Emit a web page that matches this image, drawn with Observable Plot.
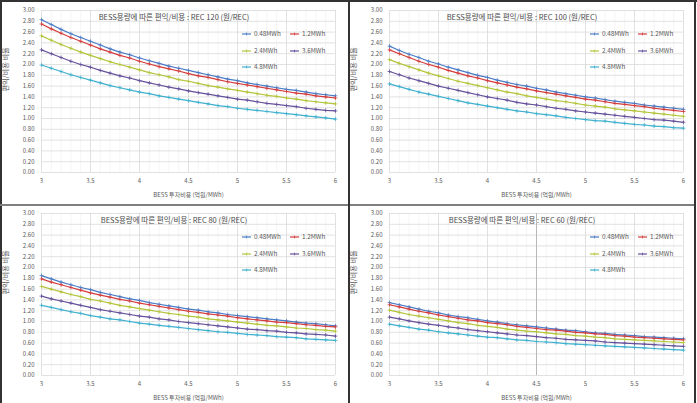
<!DOCTYPE html>
<html><head><meta charset="utf-8">
<script src="https://cdn.jsdelivr.net/npm/d3@7"></script>
<script src="https://cdn.jsdelivr.net/npm/@observablehq/plot@0.6"></script>
<style>
body{margin:0;background:#fff;font-family:"Noto Sans CJK KR","Noto Sans",sans-serif;}
#root{position:relative;width:697px;height:403px;overflow:hidden;background:#fff}
.panel{position:absolute}
.panel svg{display:block}
.title{position:absolute;font-size:7.5px;color:#4a4a4a;white-space:nowrap;transform:translate(-50%,-50%);line-height:1;font-weight:400}
.leg{position:absolute;font-size:6.3px;color:#595959;white-space:nowrap;line-height:1;display:flex;align-items:center}
.leg svg{margin-right:3px}
.bar{position:absolute}
</style></head><body><div id="root"></div>
<script>
const xValues = [3.0,3.1,3.2,3.3,3.4,3.5,3.6,3.7,3.8,3.9,4.0,4.1,4.2,4.3,4.4,4.5,4.6,4.7,4.8,4.9,5.0,5.1,5.2,5.3,5.4,5.5,5.6,5.7,5.8,5.9,6.0];
const seriesNames = ["0.48MWh","1.2MWh","2.4MWh","3.6MWh","4.8MWh"];
const seriesColors = ["#4a7cc7","#d63c3c","#b4c53a","#66519c","#3fb0cf"];
const recLabels = ["REC 120","REC 100","REC 80","REC 60"];
const xTicks = [3,3.5,4,4.5,5,5.5,6];
const xMinor = [3.1,3.2,3.3,3.4,3.6,3.7,3.8,3.9,4.1,4.2,4.3,4.4,4.6,4.7,4.8,4.9,5.1,5.2,5.3,5.4,5.6,5.7,5.8,5.9];
const yTicks = [0,0.2,0.4,0.6,0.8,1.0,1.2,1.4,1.6,1.8,2.0,2.2,2.4,2.6,2.8,3.0];
const xTitle = "BESS 투자비용 (억원/MWh)";
const yTitle = "편익/비용 비율";

const rec120 = [
 [2.83,2.74,2.65,2.57,2.50,2.43,2.36,2.29,2.23,2.18,2.12,2.07,2.02,1.97,1.93,1.89,1.85,1.81,1.77,1.73,1.70,1.66,1.63,1.60,1.57,1.54,1.52,1.49,1.46,1.44,1.42],
 [2.75,2.66,2.58,2.50,2.43,2.36,2.29,2.23,2.17,2.12,2.06,2.01,1.96,1.92,1.88,1.83,1.79,1.76,1.72,1.68,1.65,1.62,1.59,1.56,1.53,1.50,1.47,1.45,1.42,1.40,1.38],
 [2.53,2.45,2.37,2.30,2.23,2.17,2.11,2.05,2.00,1.95,1.90,1.85,1.81,1.77,1.72,1.69,1.65,1.61,1.58,1.55,1.52,1.49,1.46,1.43,1.41,1.38,1.36,1.33,1.31,1.29,1.27],
 [2.27,2.20,2.13,2.06,2.00,1.95,1.89,1.84,1.79,1.75,1.70,1.66,1.62,1.58,1.55,1.51,1.48,1.45,1.42,1.39,1.36,1.34,1.31,1.28,1.26,1.24,1.22,1.19,1.17,1.15,1.14],
 [1.99,1.93,1.87,1.81,1.76,1.71,1.66,1.61,1.57,1.53,1.49,1.46,1.42,1.39,1.36,1.33,1.30,1.27,1.24,1.22,1.19,1.17,1.15,1.13,1.11,1.09,1.07,1.05,1.03,1.01,0.99]
];
const rec100 = [
 [2.34,2.26,2.19,2.13,2.06,2.01,1.95,1.90,1.85,1.80,1.76,1.71,1.67,1.63,1.60,1.56,1.53,1.49,1.46,1.43,1.40,1.38,1.35,1.32,1.30,1.28,1.25,1.23,1.21,1.19,1.17],
 [2.27,2.20,2.13,2.06,2.00,1.95,1.89,1.84,1.79,1.75,1.70,1.66,1.62,1.58,1.55,1.51,1.48,1.45,1.42,1.39,1.36,1.34,1.31,1.28,1.26,1.24,1.22,1.19,1.17,1.15,1.13],
 [2.09,2.02,1.96,1.90,1.84,1.79,1.74,1.69,1.65,1.61,1.57,1.53,1.49,1.46,1.42,1.39,1.36,1.33,1.31,1.28,1.25,1.23,1.21,1.18,1.16,1.14,1.12,1.10,1.08,1.06,1.04],
 [1.87,1.81,1.75,1.70,1.65,1.60,1.56,1.52,1.48,1.44,1.40,1.37,1.34,1.30,1.27,1.25,1.22,1.19,1.17,1.14,1.12,1.10,1.08,1.06,1.04,1.02,1.00,0.98,0.97,0.95,0.93],
 [1.64,1.59,1.54,1.49,1.45,1.41,1.37,1.33,1.29,1.26,1.23,1.20,1.17,1.14,1.12,1.09,1.07,1.05,1.02,1.00,0.98,0.96,0.95,0.93,0.91,0.89,0.88,0.86,0.85,0.83,0.82]
];
const rec80 = [
 [1.85,1.79,1.73,1.68,1.63,1.59,1.54,1.50,1.46,1.42,1.39,1.35,1.32,1.29,1.26,1.23,1.21,1.18,1.16,1.13,1.11,1.09,1.07,1.05,1.03,1.01,0.99,0.97,0.96,0.94,0.92],
 [1.79,1.73,1.68,1.63,1.58,1.53,1.49,1.45,1.41,1.38,1.34,1.31,1.28,1.25,1.22,1.19,1.17,1.14,1.12,1.10,1.07,1.05,1.03,1.01,0.99,0.98,0.96,0.94,0.93,0.91,0.90],
 [1.65,1.60,1.55,1.50,1.46,1.41,1.38,1.34,1.30,1.27,1.24,1.21,1.18,1.15,1.13,1.10,1.08,1.05,1.03,1.01,0.99,0.97,0.95,0.93,0.92,0.90,0.88,0.87,0.85,0.84,0.82],
 [1.47,1.42,1.38,1.34,1.30,1.26,1.22,1.19,1.16,1.13,1.10,1.08,1.05,1.03,1.00,0.98,0.96,0.94,0.92,0.90,0.88,0.86,0.85,0.83,0.82,0.80,0.79,0.77,0.76,0.75,0.73],
 [1.30,1.26,1.22,1.18,1.15,1.11,1.08,1.05,1.03,1.00,0.97,0.95,0.93,0.91,0.89,0.87,0.85,0.83,0.81,0.80,0.78,0.76,0.75,0.74,0.72,0.71,0.70,0.68,0.67,0.66,0.65]
];
const rec60 = [
 [1.35,1.31,1.27,1.23,1.19,1.16,1.12,1.09,1.07,1.04,1.01,0.99,0.96,0.94,0.92,0.90,0.88,0.86,0.84,0.83,0.81,0.79,0.78,0.76,0.75,0.74,0.72,0.71,0.70,0.69,0.68],
 [1.31,1.27,1.23,1.19,1.16,1.12,1.09,1.06,1.03,1.01,0.98,0.96,0.94,0.91,0.89,0.87,0.85,0.84,0.82,0.80,0.79,0.77,0.76,0.74,0.73,0.71,0.70,0.69,0.68,0.67,0.66],
 [1.21,1.17,1.13,1.10,1.07,1.04,1.01,0.98,0.96,0.93,0.91,0.89,0.86,0.84,0.82,0.81,0.79,0.77,0.76,0.74,0.73,0.71,0.70,0.68,0.67,0.66,0.65,0.64,0.63,0.62,0.61],
 [1.08,1.05,1.01,0.98,0.95,0.93,0.90,0.88,0.85,0.83,0.81,0.79,0.77,0.75,0.74,0.72,0.70,0.69,0.67,0.66,0.65,0.64,0.62,0.61,0.60,0.59,0.58,0.57,0.56,0.55,0.54],
 [0.95,0.92,0.89,0.86,0.84,0.81,0.79,0.77,0.75,0.73,0.71,0.70,0.68,0.66,0.65,0.63,0.62,0.61,0.59,0.58,0.57,0.56,0.55,0.54,0.53,0.52,0.51,0.50,0.49,0.48,0.47]
];
const panelValues = [rec120, rec100, rec80, rec60];

const root = document.getElementById("root");
const FONT = '"Noto Sans CJK KR","Noto Sans",sans-serif';
const panels = [
  {left:0, top:0, height:202, mb:30},
  {left:348, top:0, height:202, mb:30},
  {left:0, top:203, height:200, mb:28},
  {left:348, top:203, height:200, mb:28}
];

function makeChart(vals, highlight, p) {
  const data = [];
  seriesNames.forEach((s, i) => xValues.forEach((x, j) => data.push({x, y: vals[i][j], s})));
  return Plot.plot({
    width: 348, height: p.height,
    marginLeft: 41, marginRight: 13, marginTop: 10, marginBottom: p.mb,
    style: {fontFamily: FONT, fontSize: "6px", color: "#595959", background: "transparent", overflow: "visible"},
    x: {domain: [3, 6]},
    y: {domain: [0, 3]},
    color: {domain: seriesNames, range: seriesColors},
    marks: [
      Plot.ruleX(xMinor, {stroke: "#f2f2f2", strokeWidth: 0.8}),
      Plot.gridY(yTicks, {stroke: "#d9d9d9", strokeOpacity: 1, strokeWidth: 0.8}),
      Plot.gridX(xTicks, {stroke: "#d9d9d9", strokeOpacity: 1, strokeWidth: 0.8}),
      highlight ? Plot.ruleX([4.5], {stroke: "#b3b3b3", strokeWidth: 0.9}) : null,
      Plot.axisX({ticks: xTicks, tickSize: 0, tickPadding: 6, tickFormat: d => String(d),
        label: xTitle, labelAnchor: "center", labelArrow: "none", labelOffset: 24, fontSize: 6}),
      Plot.axisY({ticks: yTicks, tickSize: 0, tickPadding: 7, tickFormat: d3.format(".2f"), label: null, fontSize: 6}),
      Plot.text([yTitle], {frameAnchor: "left", rotate: -90, dx: -36, fontSize: 7.2, fill: "#595959"}),
      Plot.line(data, {x: "x", y: "y", z: "s", stroke: "s", strokeWidth: 1.2}),
      Plot.dot(data, {x: "x", y: "y", stroke: "s", symbol: "plus", r: 1.35, strokeWidth: 0.8})
    ]
  });
}

panels.forEach((p, k) => {
  const div = document.createElement("div");
  div.className = "panel";
  div.style.left = p.left + "px"; div.style.top = p.top + "px";
  div.appendChild(makeChart(panelValues[k], k === 3, p));
  root.appendChild(div);

  const t = document.createElement("div");
  t.className = "title";
  t.style.left = (p.left + 174) + "px";
  t.style.top = (p.top + 16.5) + "px";
  t.textContent = "BESS용량에 따른 편익/비용 : " + recLabels[k] + " (원/REC)";
  root.appendChild(t);

  seriesNames.forEach((s, i) => {
    const row = Math.floor(i / 2), col = i % 2;
    const item = document.createElement("div");
    item.className = "leg";
    item.style.left = (p.left + 242 + col * 48) + "px";
    item.style.top = (p.top + 31 + row * 16.5) + "px";
    const c = seriesColors[i];
    item.innerHTML = `<svg width="9" height="6"><line x1="0" y1="3" x2="9" y2="3" stroke="${c}" stroke-width="1.2"/><line x1="4.5" y1="1.6" x2="4.5" y2="4.4" stroke="${c}" stroke-width="0.8"/></svg><span>${s}</span>`;
    root.appendChild(item);
  });
});

function bar(l, t, w, h, c) {
  const b = document.createElement("div");
  b.className = "bar";
  Object.assign(b.style, {left: l + "px", top: t + "px", width: w + "px", height: h + "px", background: c});
  root.appendChild(b);
}
bar(0, 0, 697, 1.5, "#333");
bar(0, 0, 1.5, 403, "#333");
bar(0, 203.5, 695, 2, "#7f7f7f");
bar(347.5, 0, 2, 403, "#333");
bar(694, 0, 2, 403, "#333");
</script></body></html>
